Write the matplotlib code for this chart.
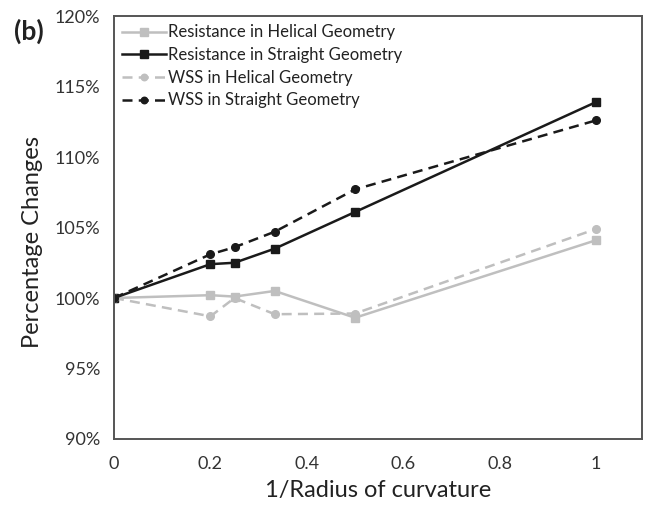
import matplotlib.pyplot as plt
from matplotlib.ticker import FuncFormatter

plt.rcParams['font.family'] = ['Lato', 'DejaVu Sans']

# 1/radius of curvature
x = [0, 0.2, 0.25, 1 / 3, 0.5, 1]

# percentage changes relative to the straight case (%)
res_helical = [100.0, 100.2, 100.1, 100.5, 98.6, 104.1]
res_straight = [100.0, 102.4, 102.5, 103.5, 106.1, 113.9]
wss_helical = [100.0, 98.7, 100.0, 98.85, 98.9, 104.9]
wss_straight = [100.0, 103.1, 103.6, 104.7, 107.7, 112.6]

x_ticks = [0, 0.2, 0.4, 0.6, 0.8, 1]
y_ticks = [90, 95, 100, 105, 110, 115, 120]

dark = '#1a1a1a'
light = '#bfbfbf'
dash = (0, (4, 2.5))

fig = plt.figure(figsize=(6.45, 5.05), dpi=100)
ax = fig.add_axes([0.1767, 0.1307, 0.8186, 0.8376])

ax.plot(x, res_helical, color=light, lw=1.8, marker='s', ms=6,
        label='Resistance in Helical Geometry')
ax.plot(x, res_straight, color=dark, lw=1.8, marker='s', ms=6,
        label='Resistance in Straight Geometry')
ax.plot(x, wss_helical, color=light, lw=1.8, ls=dash, marker='o', ms=5.5,
        label='WSS in Helical Geometry')
ax.plot(x, wss_straight, color=dark, lw=1.8, ls=dash, marker='o', ms=5.5,
        label='WSS in Straight Geometry')

ax.set_xlim(0, 1.095)
ax.set_ylim(90, 120)
ax.set_xticks(x_ticks)
ax.set_xticklabels(['0', '0.2', '0.4', '0.6', '0.8', '1'])
ax.set_yticks(y_ticks)
ax.yaxis.set_major_formatter(FuncFormatter(lambda v, p: f'{v:.0f}%'))
ax.tick_params(length=0, labelsize=13, colors='#333333', pad=10)
ax.tick_params(axis='x', pad=12)

for s in ax.spines.values():
    s.set_color('#555555')
    s.set_linewidth(1.4)

ax.set_xlabel('1/Radius of curvature', fontsize=17, color='#222222', labelpad=6)
ax.set_ylabel('Percentage Changes', fontsize=17, color='#222222')
ax.yaxis.set_label_coords(-0.135, 0.465)

ax.legend(loc='upper left', bbox_to_anchor=(0.0, 1.0), frameon=False,
          fontsize=12, handlelength=2.6, handletextpad=0.15,
          labelspacing=0.4, borderaxespad=0.1, markerscale=0.85,
          labelcolor='#222222')

fig.text(0.022, 0.922, '(b)', fontsize=19, fontweight='bold', color='#222222')

fig.savefig('out.png', dpi=100)
